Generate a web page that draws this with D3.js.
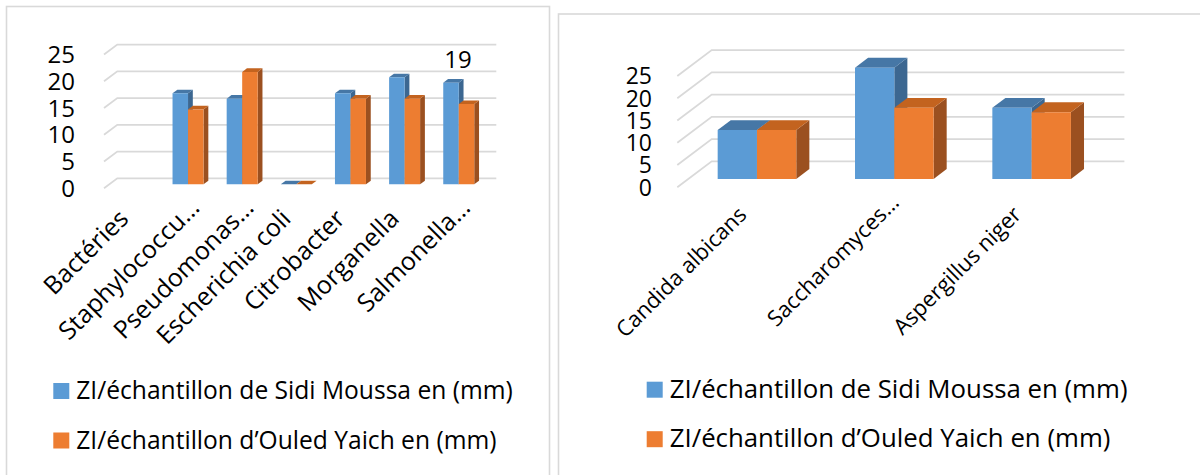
<!DOCTYPE html>
<html>
<head>
<meta charset="utf-8">
<script src="https://cdn.jsdelivr.net/npm/d3@7"></script>
<style>
  html, body { margin: 0; padding: 0; background: #fff; }
  svg { display: block; }
  text { font-family: 'Open Sans', 'Noto Sans', sans-serif; fill: #000; }
</style>
</head>
<body>
<svg id="chart" width="1200" height="475"></svg>
<script>
// Zones of inhibition (mm) for bacteria and fungi, two samples
const bacteriaCategories = ["Bactéries", "Staphylococcu…", "Pseudomonas…", "Escherichia coli", "Citrobacter", "Morganella", "Salmonella…"];
const bacteriaSidiMoussa = [null, 17, 16, 0, 17, 20, 19];
const bacteriaOuledYaich = [null, 14, 21, 0, 16, 16, 15];

const fungiCategories = ["Candida albicans", "Saccharomyces…", "Aspergillus niger"];
const fungiSidiMoussa = [11, 25, 16];
const fungiOuledYaich = [11, 16, 15];

const yTicks = [0, 5, 10, 15, 20, 25];
const seriesNames = ["ZI/échantillon de Sidi Moussa en (mm)", "ZI/échantillon d’Ouled Yaich en (mm)"];
// value label shown on the bacteria chart: series index, category index
const bacteriaValueLabels = [{ series: 0, index: 6 }];

const palette = [
  { front: "#5b9bd5", top: "#4677a6", side: "#3c6791" },
  { front: "#ed7d31", top: "#c3631f", side: "#9b5020" }
];
const gridColor = "#d9d9d9";

const svg = d3.select("#chart");

// panel frames
svg.append("rect").attr("x", 6.5).attr("y", 6.5).attr("width", 543).attr("height", 520)
  .attr("fill", "none").attr("stroke", gridColor).attr("stroke-width", 1.6);
svg.append("rect").attr("x", 558.5).attr("y", 14).attr("width", 700).attr("height", 520)
  .attr("fill", "none").attr("stroke", gridColor).attr("stroke-width", 1.6);

function draw3DColumns(cfg, categories, seriesValues, valueLabels) {
  const g = svg.append("g");
  const y = d3.scaleLinear().domain([0, 25]).range([cfg.y0, cfg.y0 - 25 * cfg.unit]);
  const proj = (x, v, z) => [x + z * cfg.depth[0], y(v) + z * cfg.depth[1]];

  // walls: side diagonal + back horizontal gridlines
  g.selectAll("path.grid").data(yTicks).join("path")
    .attr("class", "grid")
    .attr("d", t => d3.line()([proj(cfg.gridX[0], t, 0), proj(cfg.gridX[0], t, 1), proj(cfg.gridX[1], t, 1)]))
    .attr("fill", "none").attr("stroke", gridColor).attr("stroke-width", 1.8);

  // value axis labels at front edge
  g.selectAll("text.tick").data(yTicks).join("text")
    .attr("class", "tick")
    .attr("x", cfg.tickX)
    .attr("y", t => y(t))
    .attr("dy", "0.36em")
    .attr("text-anchor", "end")
    .style("font-size", cfg.tickSize + "px")
    .text(t => t);

  const band = d3.scaleBand().domain(d3.range(categories.length)).range(cfg.bandRange);
  const inner = d3.scaleBand().domain([0, 1]).range([-cfg.barWidth, cfg.barWidth]);
  const z0 = cfg.barZ, z1 = cfg.barZ + cfg.barDepth;

  const bars = [];
  categories.forEach((c, i) => {
    seriesValues.forEach((vals, s) => {
      if (vals[i] == null) return;
      const xl = band(i) + band.bandwidth() / 2 + inner(s);
      bars.push({ i, s, v: vals[i], xl, xr: xl + inner.bandwidth() });
    });
  });

  const poly = pts => "M" + pts.map(p => p.join(",")).join("L") + "Z";
  const bar = g.selectAll("g.bar").data(bars).join("g").attr("class", "bar");
  bar.append("path")
    .attr("d", d => poly([proj(d.xr, 0, z0), proj(d.xr, 0, z1), proj(d.xr, d.v, z1), proj(d.xr, d.v, z0)]))
    .attr("fill", d => palette[d.s].side);
  bar.append("path")
    .attr("d", d => poly([proj(d.xl, d.v, z0), proj(d.xr, d.v, z0), proj(d.xr, d.v, z1), proj(d.xl, d.v, z1)]))
    .attr("fill", d => palette[d.s].top);
  bar.append("path")
    .attr("d", d => poly([proj(d.xl, 0, z0), proj(d.xr, 0, z0), proj(d.xr, d.v, z0), proj(d.xl, d.v, z0)]))
    .attr("fill", d => palette[d.s].front);

  // value labels
  valueLabels.forEach(l => {
    const d = bars.find(b => b.s === l.series && b.i === l.index);
    const p = proj((d.xl + d.xr) / 2, d.v, z0);
    g.append("text")
      .attr("x", p[0] + 7).attr("y", p[1] - 15)
      .attr("text-anchor", "middle")
      .style("font-size", cfg.tickSize + "px")
      .text(d.v);
  });

  // rotated category labels
  const baseY = y(0) + z0 * cfg.depth[1];
  g.selectAll("text.cat").data(categories).join("text")
    .attr("class", "cat")
    .attr("text-anchor", "end")
    .style("font-size", cfg.catSize + "px")
    .attr("transform", (c, i) => {
      const cx = band(i) + band.bandwidth() / 2 + z0 * cfg.depth[0];
      const off = c.endsWith("…") ? cfg.cutLabelOffset : cfg.labelOffset;
      return `translate(${cx + off[0]},${baseY + off[1]}) rotate(-45)`;
    })
    .text(c => c);

  // legend
  const lg = g.selectAll("g.legend").data(seriesNames).join("g")
    .attr("class", "legend")
    .attr("transform", (d, i) => `translate(${cfg.legendX},${cfg.legendY + i * 49.5})`);
  lg.append("rect").attr("x", 0).attr("y", -16).attr("width", 16).attr("height", 16)
    .attr("fill", (d, i) => palette[i].front);
  lg.append("text").attr("x", 23).attr("y", 0)
    .style("font-size", cfg.legendSize + "px")
    .text(d => d);
}

draw3DColumns({
  y0: 188.3, unit: 5.35, depth: [13.3, -10],
  gridX: [104, 483], bandRange: [101.5, 480.5],
  barZ: 0.4, barDepth: 0.36, barWidth: 15.5,
  tickX: 75, tickSize: 24, catSize: 25,
  labelOffset: [-4, 36], cutLabelOffset: [13, 25],
  legendX: 53.3, legendY: 399, legendSize: 24.6
}, bacteriaCategories, [bacteriaSidiMoussa, bacteriaOuledYaich], bacteriaValueLabels);

draw3DColumns({
  y0: 187.3, unit: 4.45, depth: [34.4, -26],
  gridX: [677.3, 1090], bandRange: [677.3, 1089.3],
  barZ: 0.32, barDepth: 0.38, barWidth: 39.3,
  tickX: 652, tickSize: 23, catSize: 22,
  labelOffset: [-9, 37], cutLabelOffset: [6, 25],
  legendX: 646.7, legendY: 397.7, legendSize: 25.8
}, fungiCategories, [fungiSidiMoussa, fungiOuledYaich], []);
</script>
</body>
</html>
